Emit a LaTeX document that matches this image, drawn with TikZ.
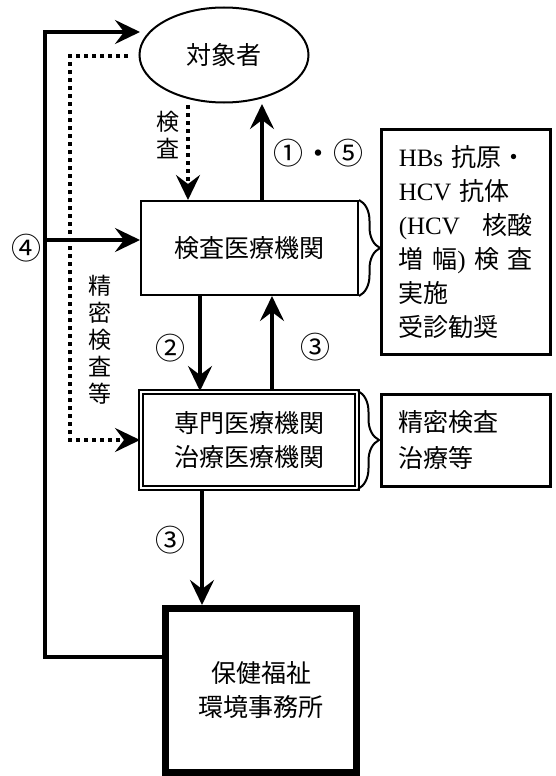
\documentclass[tikz,border=0pt]{standalone}
\usepackage{fontspec}
\setmainfont{Liberation Serif}
\newfontfamily\jpfont{Noto Sans CJK JP}
\usetikzlibrary{arrows.meta,shapes.geometric,decorations.pathreplacing}

\begin{document}
\begin{tikzpicture}[x=1pt, y=-1pt, line join=miter,
  >={Stealth[length=25pt,width=24pt,inset=9pt]},
  every node/.style={font=\jpfont\fontsize{25}{34}\selectfont},
  flow/.style={->, line width=3.5pt},
  dotflow/.style={->, line width=3.5pt, dash pattern=on 4pt off 4pt},
  orgbox/.style={draw, line width=2pt, inner sep=0pt, align=center},
  infobox/.style={draw, line width=2.5pt, anchor=north west, text width=134pt,
    inner xsep=17.5pt, align=left},
  bracket/.style={line width=2pt, decorate, decoration={brace, amplitude=21pt}},
  vtext/.style={align=center, font=\jpfont\fontsize{23}{27}\selectfont},
  numlbl/.style={font=\jpfont\fontsize{30}{34}\selectfont}]
  \useasboundingbox (0,0) rectangle (556,776);

  % Organisations
  \node[ellipse, draw, line width=2pt, minimum width=169pt, minimum height=95pt,
    inner sep=0pt] (target) at (224,55) {対象者};
  \node[orgbox, minimum width=217pt, minimum height=94pt] (exam) at (249.5,248) {検査医療機関};
  \node[orgbox, double, double distance=2.5pt, minimum width=216pt, minimum height=96pt]
    (spec) at (249,440) {専門医療機関\\治療医療機関};
  \node[orgbox, line width=7pt, minimum width=191pt, minimum height=164pt]
    (office) at (261,690.5) {保健福祉\\環境事務所};

  % Notes on the right
  \node[infobox, minimum height=225pt] (testnote) at (380,128)
    {{\rmfamily HBs} 抗原・\\
     {\rmfamily HCV} 抗体\\
     \makebox[134pt][l]{{\rmfamily (HCV}\hfill 核酸}\\
     \makebox[134pt][l]{増\hfill 幅{\rmfamily )}\hfill 検\hfill 査}\\
     実施\\
     受診勧奨};
  \node[infobox, minimum height=92pt, font=\jpfont\fontsize{25}{36}\selectfont]
    (carenote) at (380,393) {精密検査\\治療等};
  \draw[bracket] (exam.north east) -- (exam.south east);
  \draw[bracket] (spec.north east) -- (spec.south east);

  % Return route (4)
  \coordinate (loopbot) at (45,657);
  \coordinate (looptop) at (45,32);
  \coordinate (toptip) at (140,32);
  \coordinate (branch) at (45,240);
  \draw[flow] (loopbot -| office.west) -- (loopbot) -- (looptop) -- (toptip);
  \draw[flow] (branch) -- (branch -| exam.west);

  % Dotted routes
  \coordinate (dotstart) at (128,56);
  \coordinate (dotcorner) at (70,56);
  \draw[dotflow] (dotstart) -- (dotcorner) |- (spec.west);
  \coordinate (kensa) at (188,105);
  \draw[dotflow] (kensa) -- (kensa |- exam.north);

  % Solid routes between the boxes
  \coordinate (up15) at (262,104);
  \coordinate (col2) at (200,0);
  \coordinate (col3up) at (272,0);
  \coordinate (col3down) at (202,0);
  \draw[flow] (up15 |- exam.north) -- (up15);
  \draw[flow] (exam.south -| col2) -- (spec.north -| col2);
  \draw[flow] (spec.north -| col3up) -- (exam.south -| col3up);
  \draw[flow] (spec.south -| col3down) -- (office.north -| col3down);

  % Labels
  \node[numlbl] (lbl4) at (27,248) {④};
  \node[numlbl] (lbl15) at (318,153) {①・⑤};
  \node[numlbl] (lbl2) at (170,348) {②};
  \node[numlbl] (lbl3a) at (315,347) {③};
  \node[numlbl] (lbl3b) at (170,540) {③};
  \node[vtext] (kensalbl) at (168,135) {検\\査};
  \node[vtext] (seimitsu) at (100,340) {精\\密\\検\\査\\等};
\end{tikzpicture}
\end{document}
